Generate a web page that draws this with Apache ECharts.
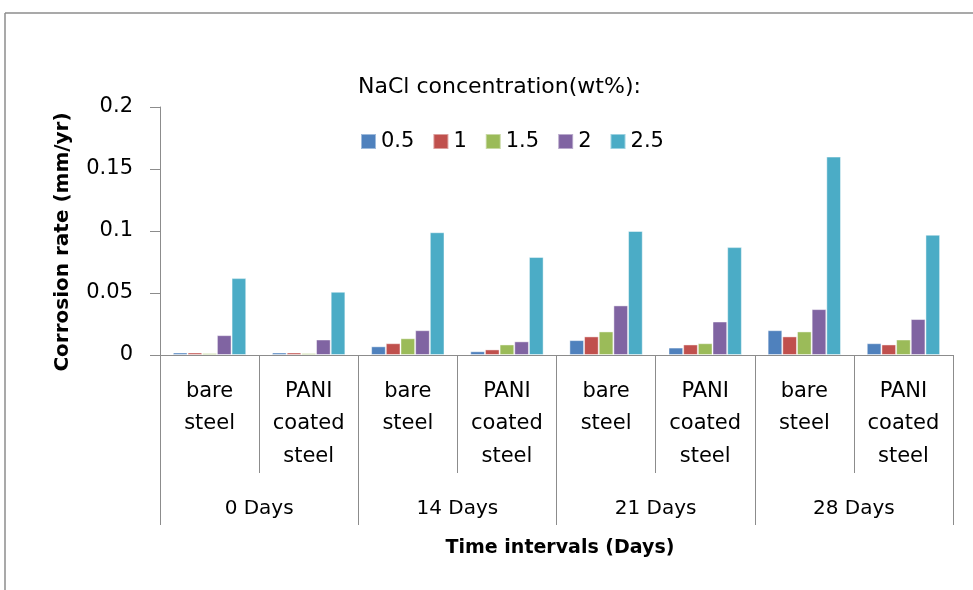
<!DOCTYPE html>
<html>
<head>
<meta charset="utf-8">
<script src="https://cdn.jsdelivr.net/npm/echarts@6/dist/echarts.min.js"></script>
<style>html,body{margin:0;padding:0;background:#fff}#c{width:973px;height:590px}</style>
</head>
<body>
<div id="c"></div>
<script>
var categories = ['bare\nsteel', 'PANI\ncoated\nsteel', 'bare\nsteel', 'PANI\ncoated\nsteel', 'bare\nsteel', 'PANI\ncoated\nsteel', 'bare\nsteel', 'PANI\ncoated\nsteel'];
var groups = ['0 Days', '14 Days', '21 Days', '28 Days'];
var seriesNames = ['0.5', '1', '1.5', '2', '2.5'];
var s05 = [0.002, 0.002, 0.007, 0.003, 0.012, 0.006, 0.020, 0.0095];
var s1 = [0.002, 0.002, 0.0095, 0.0045, 0.015, 0.0085, 0.015, 0.0085];
var s15 = [0.0015, 0.0015, 0.0135, 0.0085, 0.019, 0.0095, 0.019, 0.0125];
var s2 = [0.016, 0.0125, 0.020, 0.011, 0.040, 0.027, 0.037, 0.029];
var s25 = [0.062, 0.051, 0.099, 0.079, 0.100, 0.087, 0.160, 0.097];
var yTicks = [0, 0.05, 0.1, 0.15, 0.2];

var colors = ['#4F81BD', '#C0504D', '#9BBB59', '#8064A2', '#4BACC6'];
var FONT = 'DejaVu Sans';
var allData = [s05, s1, s15, s2, s25];

var chart = echarts.init(document.getElementById('c'), null, {renderer: 'canvas'});
var option = {
  animation: false,
  backgroundColor: '#fff',
  color: colors,
  title: [
    {text: 'NaCl concentration(wt%):', left: 353, top: 71,
     textStyle: {fontFamily: FONT, fontSize: 22, fontWeight: 'normal', color: '#000'}},
    {text: 'Time intervals (Days)', left: 555, top: 534, textAlign: 'center',
     textStyle: {fontFamily: FONT, fontSize: 19, fontWeight: 'bold', color: '#000'}}
  ],
  legend: {
    left: 355, top: 126, itemWidth: 15, itemHeight: 15, itemGap: 18,
    icon: 'rect',
    textStyle: {fontFamily: FONT, fontSize: 21, color: '#000'},
    data: seriesNames
  },
  grid: {left: 160, right: 20, top: 107, bottom: 235, containLabel: false},
  xAxis: [
    {type: 'category', data: categories, position: 'bottom',
     axisLine: {show: true, lineStyle: {color: '#8c8c8c', width: 1}},
     axisTick: {show: true, interval: 0, length: 118, lineStyle: {color: '#8c8c8c'}},
     axisLabel: {interval: 0, fontFamily: FONT, fontSize: 21, lineHeight: 32.5, color: '#000', margin: 20}
    },
    {type: 'category', data: groups, position: 'bottom',
     axisLine: {show: false},
     axisTick: {show: true, interval: 0, length: 170, lineStyle: {color: '#8c8c8c'}},
     axisLabel: {interval: 0, fontFamily: FONT, fontSize: 20, color: '#000', margin: 144}
    }
  ],
  yAxis: {
    type: 'value', min: 0, max: 0.2, interval: 0.05,
    name: 'Corrosion rate (mm/yr)', nameLocation: 'middle', nameGap: 87, nameRotate: 90,
    nameTextStyle: {fontFamily: FONT, fontSize: 20, fontWeight: 'bold', color: '#000', padding: [0, 22, 0, 0]},
    axisLine: {show: true, lineStyle: {color: '#8c8c8c'}},
    axisTick: {show: true, length: 10, lineStyle: {color: '#8c8c8c'}},
    splitLine: {show: false},
    axisLabel: {fontFamily: FONT, fontSize: 21, color: '#000', margin: 27,
      formatter: function (v) { return String(parseFloat(v.toFixed(2))); }}
  },
  series: seriesNames.map(function (n, i) {
    return {
      name: n, type: 'bar', xAxisIndex: 0, data: allData[i],
      barGap: '0%', barCategoryGap: '26%',
      itemStyle: {color: colors[i], borderColor: 'rgba(255,255,255,0.45)', borderWidth: 1}
    };
  }),
  graphic: [
    {type: 'line', shape: {x1: 5, y1: 13, x2: 973, y2: 13}, style: {stroke: '#8c8c8c', lineWidth: 1.5}},
    {type: 'line', shape: {x1: 5, y1: 13, x2: 5, y2: 590}, style: {stroke: '#8c8c8c', lineWidth: 1.5}}
  ]
};
chart.setOption(option);
</script>
</body>
</html>
